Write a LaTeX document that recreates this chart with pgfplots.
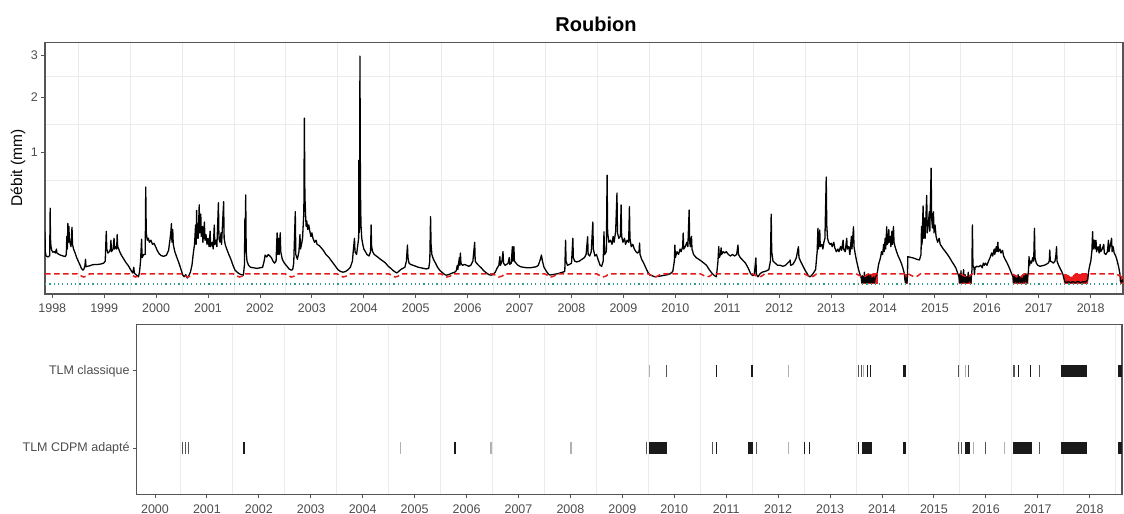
\documentclass[border=0pt]{standalone}
\usepackage{fontspec}
\setmainfont{Liberation Sans}
\usepackage{pgfplots}
\pgfplotsset{compat=1.18}
\definecolor{thr}{HTML}{E41A1C}
\definecolor{fillred}{HTML}{EE1C1C}
\definecolor{zeroc}{HTML}{2E9E8A}
\definecolor{bord}{HTML}{555555}
\definecolor{gridc}{HTML}{EBEBEB}
\definecolor{labc}{HTML}{4D4D4D}
\definecolor{evdark}{HTML}{1A1A1A}
\definecolor{evmid}{HTML}{555555}
\definecolor{evlight}{HTML}{B0B0B0}

\pgfplotsset{
  panel/.style={
    scale only axis, anchor=south west,
    tick align=outside, major tick length=3.6bp, minor tick length=0pt,
    xtick pos=left, ytick pos=left,
    tick style={color=bord, line width=0.9bp},
    axis line style={color=bord, line width=1.1bp},
    tick label style={font=\fontsize{12.5bp}{14bp}\selectfont, color=labc},
    /pgf/number format/assume math mode=true,
    xticklabel style={/pgf/number format/1000 sep={}, yshift=-3bp},
    xminorgrids, minor grid style={color=gridc, line width=0.9bp},
  }
}

\begin{document}
\begin{tikzpicture}
\useasboundingbox (0,0) rectangle (1124bp,514bp);

\begin{axis}[panel,
  at={(45bp,220bp)}, width=1078bp, height=251.3bp,
  xmin=1997.86, xmax=2018.62, ymin=-0.0758, ymax=1.828,
  y filter/.expression={sqrt(y)},
  xtick={1998,...,2018},
  minor xtick={1998.5,1999.5,...,2018.5},
  ytick={1,1.41421,1.73205}, yticklabels={1,2,3},
  minor ytick={0.788,1.207,1.573}, yminorgrids]

% periodes sous le seuil
\addplot[fill=fillred, draw=none] coordinates {(2013.58,0.0033)(2013.60,0.0028)(2013.66,0.0035)(2013.72,0.006)(2013.90,0.006)(2013.90,0)(2013.58,0)} -- cycle;
\addplot[fill=fillred, draw=none] coordinates {(2014.415,0.006)(2014.475,0.006)(2014.475,0)(2014.415,0)} -- cycle;
\addplot[fill=fillred, draw=none] coordinates {(2015.46,0.006)(2015.48,0.006)(2015.55,0.004)(2015.60,0.0028)(2015.66,0.0035)(2015.71,0.0055)(2015.71,0)(2015.46,0)} -- cycle;
\addplot[fill=fillred, draw=none] coordinates {(2016.50,0.005)(2016.55,0.004)(2016.60,0.0028)(2016.66,0.0035)(2016.72,0.006)(2016.80,0.006)(2016.80,0)(2016.50,0)} -- cycle;
\addplot[fill=fillred, draw=none] coordinates {(2017.48,0.006)(2017.55,0.004)(2017.60,0.0028)(2017.66,0.0035)(2017.72,0.006)(2017.95,0.006)(2017.95,0)(2017.48,0)} -- cycle;
\addplot[fill=fillred, draw=none] coordinates {(2018.565,0.0042)(2018.60,0.0028)(2018.62,0.003)(2018.62,0)(2018.565,0)} -- cycle;

% debit journalier
\addplot[black, line width=1.3bp, line join=round] coordinates {
(1997.86,0.157)(1997.865,0.06)(1997.88,0.045)(1997.92,0.042)(1997.95,0.046)(1997.96,0.33)(1997.965,0.12)(1997.975,0.08)(1997.99,0.065)
(1998.01,0.058)(1998.04,0.06)(1998.06,0.055)(1998.08,0.07)(1998.09,0.055)(1998.13,0.05)(1998.17,0.047)(1998.21,0.045)(1998.25,0.043)
(1998.27,0.05)(1998.28,0.13)(1998.29,0.07)(1998.30,0.21)(1998.31,0.10)(1998.32,0.19)(1998.33,0.11)(1998.35,0.09)(1998.36,0.08)
(1998.38,0.185)(1998.39,0.09)(1998.41,0.07)(1998.44,0.055)(1998.47,0.04)(1998.50,0.03)(1998.53,0.022)(1998.56,0.014)(1998.59,0.011)
(1998.61,0.013)(1998.63,0.02)(1998.64,0.035)(1998.65,0.017)(1998.68,0.018)(1998.72,0.019)(1998.77,0.021)(1998.82,0.022)(1998.88,0.022)
(1998.94,0.023)(1998.99,0.025)(1999.02,0.03)(1999.04,0.16)(1999.05,0.07)(1999.07,0.055)(1999.10,0.06)(1999.12,0.07)(1999.13,0.11)
(1999.14,0.06)(1999.17,0.07)(1999.19,0.12)(1999.20,0.07)(1999.22,0.08)(1999.24,0.07)(1999.25,0.14)(1999.26,0.08)(1999.28,0.07)
(1999.31,0.055)(1999.34,0.045)(1999.38,0.035)(1999.42,0.026)(1999.46,0.02)(1999.50,0.013)(1999.53,0.009)(1999.55,0.007)(1999.57,0.016)
(1999.58,0.007)(1999.61,0.005)(1999.64,0.004)(1999.66,0.003)(1999.68,0.008)(1999.70,0.03)(1999.72,0.115)(1999.73,0.04)(1999.76,0.05)
(1999.79,0.05)(1999.80,0.54)(1999.81,0.15)(1999.83,0.11)(1999.85,0.12)(1999.87,0.10)(1999.90,0.11)(1999.93,0.09)(1999.96,0.095)
(1999.99,0.08)(2000.02,0.065)(2000.06,0.052)(2000.10,0.046)(2000.15,0.044)(2000.20,0.048)(2000.24,0.065)(2000.27,0.12)(2000.285,0.16)
(2000.295,0.21)(2000.305,0.10)(2000.32,0.17)(2000.33,0.09)(2000.36,0.06)(2000.40,0.04)(2000.44,0.025)(2000.48,0.012)(2000.51,0.005)
(2000.54,0.003)(2000.57,0.005)(2000.60,0.002)(2000.63,0.004)(2000.66,0.008)(2000.69,0.02)(2000.72,0.06)(2000.74,0.09)(2000.76,0.2)
(2000.77,0.09)(2000.78,0.31)(2000.79,0.12)(2000.80,0.2)(2000.81,0.12)(2000.83,0.36)(2000.84,0.15)(2000.86,0.28)(2000.87,0.13)
(2000.89,0.19)(2000.90,0.10)(2000.93,0.22)(2000.94,0.11)(2000.96,0.14)(2000.98,0.09)(2001.00,0.12)(2001.02,0.08)(2001.04,0.16)
(2001.05,0.08)(2001.08,0.1)(2001.10,0.07)(2001.12,0.2)(2001.13,0.09)(2001.15,0.11)(2001.17,0.08)(2001.20,0.38)(2001.21,0.12)
(2001.23,0.1)(2001.25,0.15)(2001.26,0.09)(2001.30,0.39)(2001.31,0.12)(2001.33,0.09)(2001.36,0.07)(2001.40,0.05)(2001.44,0.035)
(2001.48,0.02)(2001.52,0.011)(2001.56,0.008)(2001.60,0.006)(2001.64,0.005)(2001.68,0.0045)(2001.70,0.02)(2001.71,0.25)(2001.715,0.06)
(2001.725,0.455)(2001.735,0.06)(2001.75,0.03)(2001.78,0.02)(2001.82,0.016)(2001.88,0.015)(2001.94,0.014)(2002.00,0.015)(2002.05,0.016)
(2002.08,0.03)(2002.10,0.048)(2002.13,0.042)(2002.16,0.05)(2002.19,0.045)(2002.22,0.04)(2002.25,0.03)(2002.28,0.025)(2002.31,0.03)
(2002.33,0.15)(2002.34,0.05)(2002.36,0.12)(2002.37,0.05)(2002.39,0.15)(2002.40,0.06)(2002.43,0.035)(2002.47,0.025)(2002.52,0.018)
(2002.56,0.013)(2002.60,0.011)(2002.63,0.012)(2002.65,0.025)(2002.68,0.3)(2002.69,0.05)(2002.72,0.035)(2002.75,0.06)(2002.77,0.14)
(2002.78,0.07)(2002.80,0.09)(2002.82,0.12)(2002.845,0.3)(2002.855,1.58)(2002.865,0.45)(2002.88,0.25)(2002.89,0.19)(2002.90,0.23)
(2002.92,0.17)(2002.94,0.2)(2002.96,0.16)(2002.98,0.13)(2003.00,0.15)(2003.02,0.12)(2003.05,0.1)(2003.08,0.11)(2003.10,0.09)
(2003.14,0.085)(2003.18,0.075)(2003.22,0.065)(2003.27,0.05)(2003.32,0.042)(2003.38,0.03)(2003.44,0.02)(2003.50,0.012)(2003.55,0.009)
(2003.60,0.008)(2003.65,0.009)(2003.70,0.012)(2003.74,0.016)(2003.78,0.03)(2003.80,0.07)(2003.82,0.12)(2003.83,0.06)(2003.86,0.05)
(2003.88,0.08)(2003.90,0.12)(2003.905,0.88)(2003.91,0.15)(2003.92,0.2)(2003.925,2.98)(2003.935,0.5)(2003.945,0.2)(2003.96,0.12)
(2003.98,0.09)(2004.00,0.07)(2004.03,0.06)(2004.06,0.05)(2004.10,0.045)(2004.13,0.06)(2004.14,0.2)(2004.15,0.08)(2004.17,0.06)
(2004.20,0.05)(2004.24,0.045)(2004.28,0.04)(2004.32,0.035)(2004.37,0.03)(2004.42,0.025)(2004.47,0.018)(2004.52,0.014)(2004.57,0.01)
(2004.61,0.008)(2004.64,0.007)(2004.67,0.009)(2004.71,0.012)(2004.75,0.014)(2004.79,0.016)(2004.82,0.03)(2004.84,0.087)(2004.85,0.04)
(2004.87,0.025)(2004.90,0.022)(2004.95,0.02)(2005.00,0.018)(2005.05,0.016)(2005.10,0.015)(2005.15,0.014)(2005.20,0.013)(2005.25,0.014)
(2005.27,0.03)(2005.285,0.26)(2005.295,0.09)(2005.31,0.05)(2005.34,0.035)(2005.38,0.025)(2005.42,0.016)(2005.47,0.01)(2005.52,0.007)
(2005.56,0.005)(2005.59,0.0045)(2005.63,0.005)(2005.67,0.006)(2005.71,0.007)(2005.75,0.008)(2005.78,0.01)(2005.80,0.02)(2005.81,0.012)
(2005.84,0.04)(2005.85,0.02)(2005.86,0.055)(2005.87,0.025)(2005.90,0.02)(2005.94,0.022)(2005.98,0.02)(2006.02,0.018)(2006.06,0.02)
(2006.10,0.03)(2006.135,0.1)(2006.145,0.03)(2006.17,0.025)(2006.21,0.02)(2006.26,0.015)(2006.31,0.01)(2006.36,0.007)(2006.41,0.005)
(2006.45,0.0045)(2006.49,0.005)(2006.53,0.008)(2006.57,0.015)(2006.60,0.02)(2006.62,0.043)(2006.63,0.02)(2006.66,0.03)(2006.68,0.06)
(2006.69,0.025)(2006.72,0.02)(2006.75,0.022)(2006.78,0.025)(2006.80,0.04)(2006.81,0.022)(2006.84,0.025)(2006.86,0.08)(2006.87,0.03)
(2006.89,0.08)(2006.90,0.03)(2006.93,0.025)(2006.97,0.02)(2007.02,0.017)(2007.08,0.016)(2007.14,0.015)(2007.20,0.015)(2007.26,0.016)
(2007.32,0.017)(2007.36,0.02)(2007.40,0.035)(2007.42,0.048)(2007.44,0.03)(2007.47,0.016)(2007.51,0.01)(2007.55,0.006)(2007.58,0.0046)
(2007.63,0.005)(2007.68,0.0055)(2007.73,0.006)(2007.78,0.007)(2007.83,0.008)(2007.87,0.009)(2007.885,0.11)(2007.895,0.03)(2007.92,0.02)
(2007.96,0.022)(2008.00,0.025)(2008.025,0.12)(2008.035,0.04)(2008.06,0.03)(2008.10,0.028)(2008.15,0.03)(2008.20,0.035)(2008.25,0.04)
(2008.28,0.05)(2008.31,0.128)(2008.32,0.05)(2008.35,0.045)(2008.38,0.06)(2008.41,0.22)(2008.42,0.07)(2008.45,0.045)(2008.48,0.05)
(2008.51,0.035)(2008.55,0.02)(2008.58,0.018)(2008.61,0.03)(2008.625,0.157)(2008.635,0.05)(2008.67,0.06)(2008.685,0.68)(2008.695,0.15)
(2008.72,0.1)(2008.75,0.11)(2008.78,0.09)(2008.80,0.13)(2008.82,0.1)(2008.85,0.16)(2008.875,0.475)(2008.885,0.15)(2008.91,0.12)
(2008.94,0.13)(2008.955,0.358)(2008.965,0.13)(2008.99,0.1)(2009.02,0.12)(2009.04,0.09)(2009.07,0.11)(2009.10,0.1)(2009.115,0.343)
(2009.125,0.12)(2009.15,0.08)(2009.18,0.09)(2009.21,0.07)(2009.24,0.06)(2009.27,0.055)(2009.30,0.06)(2009.31,0.0965)(2009.32,0.05)
(2009.35,0.035)(2009.39,0.025)(2009.43,0.015)(2009.47,0.008)(2009.51,0.0045)(2009.55,0.004)(2009.60,0.003)(2009.65,0.0032)(2009.70,0.0035)
(2009.75,0.004)(2009.80,0.0045)(2009.85,0.005)(2009.90,0.006)(2009.95,0.009)(2009.98,0.03)(2009.99,0.087)(2010.00,0.04)(2010.03,0.06)
(2010.06,0.05)(2010.09,0.07)(2010.11,0.06)(2010.14,0.08)(2010.15,0.149)(2010.16,0.07)(2010.19,0.08)(2010.22,0.1)(2010.24,0.08)
(2010.265,0.314)(2010.275,0.1)(2010.29,0.08)(2010.31,0.13)(2010.32,0.07)(2010.35,0.05)(2010.40,0.04)(2010.45,0.035)(2010.50,0.03)
(2010.55,0.025)(2010.60,0.02)(2010.65,0.012)(2010.70,0.007)(2010.75,0.004)(2010.79,0.003)(2010.82,0.03)(2010.835,0.08)(2010.845,0.04)
(2010.87,0.05)(2010.88,0.075)(2010.89,0.05)(2010.92,0.06)(2010.95,0.055)(2010.98,0.06)(2011.02,0.05)(2011.06,0.045)(2011.10,0.05)
(2011.14,0.045)(2011.18,0.05)(2011.205,0.087)(2011.215,0.05)(2011.25,0.04)(2011.30,0.032)(2011.35,0.025)(2011.40,0.015)(2011.45,0.006)
(2011.49,0.004)(2011.52,0.005)(2011.55,0.039)(2011.56,0.005)(2011.59,0.003)(2011.63,0.006)(2011.67,0.008)(2011.72,0.009)(2011.76,0.01)
(2011.80,0.012)(2011.83,0.03)(2011.845,0.28)(2011.855,0.06)(2011.88,0.03)(2011.92,0.025)(2011.97,0.02)(2012.02,0.02)(2012.07,0.018)
(2012.12,0.02)(2012.16,0.025)(2012.20,0.03)(2012.21,0.033)(2012.22,0.02)(2012.26,0.022)(2012.30,0.03)(2012.33,0.04)(2012.36,0.07)
(2012.37,0.08)(2012.38,0.04)(2012.41,0.03)(2012.45,0.02)(2012.49,0.012)(2012.53,0.007)(2012.56,0.004)(2012.59,0.003)(2012.62,0.004)
(2012.66,0.007)(2012.70,0.012)(2012.73,0.06)(2012.745,0.178)(2012.755,0.07)(2012.78,0.167)(2012.79,0.08)(2012.82,0.09)(2012.84,0.07)
(2012.86,0.1)(2012.88,0.12)(2012.905,0.657)(2012.915,0.2)(2012.93,0.12)(2012.95,0.1)(2012.98,0.09)(2013.00,0.095)(2013.02,0.08)
(2013.05,0.1)(2013.07,0.075)(2013.10,0.06)(2013.13,0.07)(2013.15,0.06)(2013.18,0.08)(2013.20,0.065)(2013.23,0.11)(2013.24,0.07)
(2013.27,0.06)(2013.30,0.12)(2013.31,0.07)(2013.34,0.08)(2013.36,0.05)(2013.39,0.13)(2013.40,0.07)(2013.43,0.188)(2013.44,0.08)
(2013.46,0.055)(2013.49,0.03)(2013.52,0.015)(2013.55,0.006)(2013.58,0.002)(2013.59,0.0001)(2013.60,0.004)(2013.61,0.0001)(2013.62,0.003)
(2013.63,0.0002)(2013.64,0.008)(2013.65,0.0001)(2013.66,0.002)(2013.67,0.0001)(2013.68,0.005)(2013.69,0.0001)(2013.70,0.003)(2013.71,0.0001)
(2013.72,0.006)(2013.73,0.0002)(2013.74,0.002)(2013.75,0.0001)(2013.76,0.004)(2013.77,0.0001)(2013.79,0.002)(2013.80,0.0001)(2013.82,0.003)
(2013.83,0.0001)(2013.85,0.002)(2013.87,0.004)(2013.89,0.008)(2013.91,0.02)(2013.92,0.025)(2013.95,0.04)(2013.97,0.06)(2013.99,0.05)
(2014.01,0.09)(2014.02,0.06)(2014.04,0.12)(2014.05,0.07)(2014.07,0.188)(2014.08,0.09)(2014.10,0.1)(2014.11,0.17)(2014.12,0.1)
(2014.14,0.13)(2014.15,0.08)(2014.17,0.16)(2014.18,0.09)(2014.20,0.19)(2014.21,0.1)(2014.23,0.08)(2014.26,0.06)(2014.29,0.045)
(2014.32,0.035)(2014.35,0.025)(2014.38,0.015)(2014.41,0.006)(2014.42,0.001)(2014.43,0.0001)(2014.44,0.002)(2014.45,0.0001)(2014.46,0.0002)
(2014.47,0.004)(2014.475,0.043)(2014.50,0.042)(2014.55,0.04)(2014.60,0.038)(2014.65,0.035)(2014.70,0.033)(2014.73,0.05)(2014.74,0.19)
(2014.75,0.09)(2014.77,0.35)(2014.78,0.12)(2014.80,0.25)(2014.81,0.12)(2014.84,0.45)(2014.85,0.15)(2014.87,0.2)(2014.89,0.3)
(2014.90,0.16)(2014.925,0.77)(2014.935,0.25)(2014.95,0.18)(2014.97,0.3)(2014.98,0.15)(2015.00,0.2)(2015.02,0.13)(2015.05,0.1)
(2015.08,0.12)(2015.10,0.09)(2015.13,0.08)(2015.16,0.07)(2015.20,0.06)(2015.24,0.05)(2015.28,0.04)(2015.32,0.03)(2015.36,0.022)
(2015.40,0.015)(2015.43,0.008)(2015.46,0.003)(2015.47,0.0001)(2015.48,0.006)(2015.49,0.0002)(2015.50,0.01)(2015.51,0.0001)(2015.52,0.004)
(2015.53,0.0001)(2015.55,0.012)(2015.56,0.0002)(2015.58,0.005)(2015.59,0.0001)(2015.61,0.003)(2015.62,0.0001)(2015.64,0.008)(2015.65,0.0002)
(2015.67,0.004)(2015.69,0.0001)(2015.71,0.01)(2015.72,0.2)(2015.73,0.02)(2015.75,0.015)(2015.76,0.005)(2015.77,0.015)(2015.80,0.018)
(2015.84,0.017)(2015.88,0.02)(2015.91,0.015)(2015.93,0.025)(2015.95,0.02)(2015.97,0.025)(2016.00,0.02)(2016.03,0.03)(2016.06,0.04)
(2016.09,0.055)(2016.11,0.045)(2016.14,0.07)(2016.15,0.05)(2016.18,0.08)(2016.19,0.06)(2016.21,0.1)(2016.22,0.06)(2016.25,0.07)
(2016.27,0.055)(2016.30,0.065)(2016.32,0.045)(2016.35,0.035)(2016.39,0.025)(2016.43,0.015)(2016.47,0.007)(2016.50,0.003)(2016.51,0.0001)
(2016.53,0.004)(2016.54,0.0002)(2016.56,0.002)(2016.58,0.0001)(2016.60,0.005)(2016.61,0.0001)(2016.63,0.003)(2016.65,0.0001)(2016.67,0.002)
(2016.69,0.0001)(2016.71,0.004)(2016.73,0.0002)(2016.75,0.006)(2016.77,0.0001)(2016.79,0.005)(2016.80,0.01)(2016.81,0.043)(2016.82,0.02)
(2016.84,0.03)(2016.86,0.025)(2016.88,0.04)(2016.90,0.03)(2016.915,0.178)(2016.925,0.04)(2016.95,0.025)(2016.98,0.02)(2017.02,0.018)
(2017.06,0.019)(2017.10,0.02)(2017.14,0.022)(2017.18,0.025)(2017.20,0.03)(2017.21,0.066)(2017.22,0.03)(2017.25,0.028)(2017.28,0.025)
(2017.31,0.03)(2017.33,0.05)(2017.34,0.08)(2017.35,0.03)(2017.38,0.02)(2017.42,0.012)(2017.46,0.006)(2017.48,0.002)(2017.50,0.0003)
(2017.53,0.0001)(2017.56,0.0004)(2017.60,0.0001)(2017.65,0.0003)(2017.70,0.0001)(2017.75,0.0004)(2017.80,0.0001)(2017.85,0.0003)(2017.90,0.0002)
(2017.94,0.001)(2017.96,0.01)(2017.98,0.02)(2018.00,0.03)(2018.02,0.06)(2018.035,0.157)(2018.045,0.07)(2018.07,0.11)(2018.08,0.07)
(2018.10,0.11)(2018.11,0.06)(2018.14,0.08)(2018.16,0.055)(2018.18,0.09)(2018.19,0.06)(2018.22,0.07)(2018.25,0.09)(2018.26,0.055)
(2018.29,0.05)(2018.32,0.06)(2018.34,0.11)(2018.35,0.06)(2018.38,0.09)(2018.40,0.12)(2018.41,0.06)(2018.43,0.08)(2018.45,0.055)
(2018.48,0.045)(2018.51,0.03)(2018.54,0.015)(2018.56,0.006)(2018.57,0.0005)(2018.59,0.0002)(2018.61,0.001)(2018.62,0.0002)
};

% seuil
\addplot[thr, line width=1.5bp, dash pattern=on 5.5bp off 3.5bp] coordinates {
(1997.86,0.006)
(1998.48,0.006)(1998.55,0.004)(1998.60,0.0028)(1998.66,0.0035)(1998.72,0.006)
(1999.48,0.006)(1999.55,0.004)(1999.60,0.0028)(1999.66,0.0035)(1999.72,0.006)
(2000.48,0.006)(2000.55,0.004)(2000.60,0.0028)(2000.66,0.0035)(2000.72,0.006)
(2001.48,0.006)(2001.55,0.004)(2001.60,0.0028)(2001.66,0.0035)(2001.72,0.006)
(2002.48,0.006)(2002.55,0.004)(2002.60,0.0028)(2002.66,0.0035)(2002.72,0.006)
(2003.48,0.006)(2003.55,0.004)(2003.60,0.0028)(2003.66,0.0035)(2003.72,0.006)
(2004.48,0.006)(2004.55,0.004)(2004.60,0.0028)(2004.66,0.0035)(2004.72,0.006)
(2005.48,0.006)(2005.55,0.004)(2005.60,0.0028)(2005.66,0.0035)(2005.72,0.006)
(2006.48,0.006)(2006.55,0.004)(2006.60,0.0028)(2006.66,0.0035)(2006.72,0.006)
(2007.48,0.006)(2007.55,0.004)(2007.60,0.0028)(2007.66,0.0035)(2007.72,0.006)
(2008.48,0.006)(2008.55,0.004)(2008.60,0.0028)(2008.66,0.0035)(2008.72,0.006)
(2009.48,0.006)(2009.55,0.004)(2009.60,0.0028)(2009.66,0.0035)(2009.72,0.006)
(2010.48,0.006)(2010.55,0.004)(2010.60,0.0028)(2010.66,0.0035)(2010.72,0.006)
(2011.48,0.006)(2011.55,0.004)(2011.60,0.0028)(2011.66,0.0035)(2011.72,0.006)
(2012.48,0.006)(2012.55,0.004)(2012.60,0.0028)(2012.66,0.0035)(2012.72,0.006)
(2013.48,0.006)(2013.55,0.004)(2013.60,0.0028)(2013.66,0.0035)(2013.72,0.006)
(2014.48,0.006)(2014.55,0.004)(2014.60,0.0028)(2014.66,0.0035)(2014.72,0.006)
(2015.48,0.006)(2015.55,0.004)(2015.60,0.0028)(2015.66,0.0035)(2015.72,0.006)
(2016.48,0.006)(2016.55,0.004)(2016.60,0.0028)(2016.66,0.0035)(2016.72,0.006)
(2017.48,0.006)(2017.55,0.004)(2017.60,0.0028)(2017.66,0.0035)(2017.72,0.006)
(2018.48,0.006)(2018.55,0.004)(2018.60,0.0028)(2018.62,0.003)
};

% debit nul
\addplot[zeroc, line width=1.3bp, dash pattern=on 1.2bp off 3.1bp] coordinates {(1997.86,0) (2018.62,0)};
\end{axis}

\begin{axis}[panel,
  at={(136.7bp,19.7bp)}, width=985.3bp, height=169.8bp,
  xmin=1999.648, xmax=2018.62, ymin=0.4, ymax=2.6,
  xtick={2000,...,2018},
  minor xtick={2000.5,2001.5,...,2018.5},
  ytick={1,2}, yticklabels={TLM CDPM adapté,TLM classique},
  unbounded coords=jump]
% TLM CDPM adapte
\addplot[evdark, line width=12bp] coordinates {
(2001.695,1)(2001.725,1)(2001.725,nan) (2005.765,1)(2005.80,1)(2005.80,nan)
(2009.52,1)(2009.85,1)(2009.85,nan) (2010.795,1)(2010.825,1)(2010.825,nan)
(2011.42,1)(2011.52,1)(2011.52,nan) (2012.49,1)(2012.51,1)(2012.51,nan)
(2012.59,1)(2012.615,1)(2012.615,nan) (2013.53,1)(2013.55,1)(2013.55,nan)
(2013.62,1)(2013.81,1)(2013.81,nan) (2014.41,1)(2014.46,1)(2014.46,nan)
(2015.59,1)(2015.69,1)(2015.69,nan) (2016.53,1)(2016.88,1)(2016.88,nan)
(2017.44,1)(2017.94,1)(2017.94,nan) (2018.55,1)(2018.62,1)
};
\addplot[evmid, line width=12bp] coordinates {
(2000.525,1)(2000.545,1)(2000.545,nan) (2000.58,1)(2000.60,1)(2000.60,nan)
(2000.635,1)(2000.655,1)(2000.655,nan) (2009.455,1)(2009.475,1)(2009.475,nan)
(2010.73,1)(2010.75,1)(2010.75,nan) (2011.58,1)(2011.60,1)(2011.60,nan)
(2015.47,1)(2015.49,1)(2015.49,nan) (2015.52,1)(2015.54,1)(2015.54,nan)
(2015.99,1)(2016.01,1)(2016.01,nan) (2017.02,1)(2017.04,1)
};
\addplot[evlight, line width=12bp] coordinates {
(2004.72,1)(2004.74,1)(2004.74,nan) (2006.46,1)(2006.48,1)(2006.48,nan)
(2008.00,1)(2008.02,1)(2008.02,nan) (2012.18,1)(2012.20,1)(2012.20,nan)
(2015.745,1)(2015.765,1)(2015.765,nan) (2016.34,1)(2016.36,1)
};
% TLM classique
\addplot[evdark, line width=12bp] coordinates {
(2010.795,2)(2010.825,2)(2010.825,nan) (2011.47,2)(2011.52,2)(2011.52,nan)
(2013.71,2)(2013.735,2)(2013.735,nan) (2013.77,2)(2013.795,2)(2013.795,nan)
(2014.41,2)(2014.46,2)(2014.46,nan) (2016.61,2)(2016.635,2)(2016.635,nan)
(2016.84,2)(2016.865,2)(2016.865,nan) (2017.44,2)(2017.94,2)(2017.94,nan)
(2018.55,2)(2018.62,2)
};
\addplot[evmid, line width=12bp] coordinates {
(2009.83,2)(2009.85,2)(2009.85,nan) (2013.53,2)(2013.55,2)(2013.55,nan)
(2013.59,2)(2013.61,2)(2013.61,nan) (2015.47,2)(2015.49,2)(2015.49,nan)
(2015.65,2)(2015.67,2)(2015.67,nan) (2016.53,2)(2016.55,2)(2016.55,nan)
(2017.02,2)(2017.04,2)
};
\addplot[evlight, line width=12bp] coordinates {
(2009.51,2)(2009.53,2)(2009.53,nan) (2012.18,2)(2012.20,2)(2012.20,nan)
(2013.64,2)(2013.66,2)(2013.66,nan) (2015.59,2)(2015.61,2)
};
\end{axis}

\node[font=\bfseries\fontsize{20bp}{24bp}\selectfont] at (596bp,490bp) {Roubion};
\node[rotate=90, font=\fontsize{15.5bp}{18bp}\selectfont] at (18bp,346bp) {Débit (mm)};
\end{tikzpicture}
\end{document}
